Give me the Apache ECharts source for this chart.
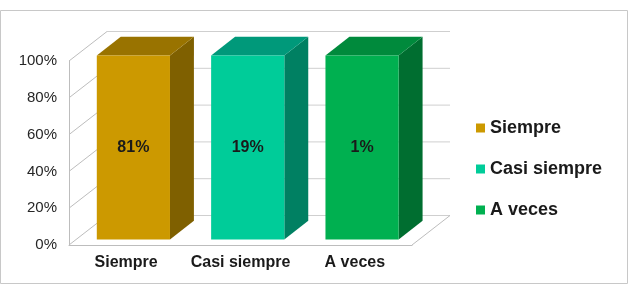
<!DOCTYPE html>
<html>
<head>
<meta charset="utf-8">
<script src="https://cdn.jsdelivr.net/npm/echarts@6/dist/echarts.min.js"></script>
<style>
html,body{margin:0;padding:0;background:#fff;}
#c{width:633px;height:289px;}
</style>
</head>
<body>
<div id="c"></div>
<script>
// ---- data ----
const categories = ['Siempre', 'Casi siempre', 'A veces'];
const barValues = [100, 100, 100];          // bar heights as drawn (100% stacked)
const labelValues = ['81%', '19%', '1%'];   // labels printed on bars
const yTicks = [0, 20, 40, 60, 80, 100];

// ---- styles ----
const frontColors = ['#CC9900', '#00CC99', '#00B050'];
const sideColors  = ['#7F6000', '#008062', '#006E30'];
const topColors   = ['#997300', '#00997A', '#008A3C'];
const FONT = 'Liberation Sans, Arial, sans-serif';

// depth of the 3D box (pixels) and bar placement inside it
const DEPTH = [38, -29.5];
const F0 = 0.19, F1 = 0.82, BAR_W = 0.64;

function wallItem(params, api) {
  const v = api.value(1);
  const band = api.size([1, 0])[0];
  const pL = api.coord([0, v]);
  const pR = api.coord([categories.length - 1, v]);
  const L = pL[0] - band / 2, R = pR[0] + band / 2, y = pL[1];
  const stroke = {stroke: '#bdbdbd', lineWidth: 1};
  const children = [
    {type: 'line', shape: {x1: L, y1: y, x2: L + DEPTH[0], y2: y + DEPTH[1]}, style: stroke},
    {type: 'line', shape: {x1: L + DEPTH[0], y1: y + DEPTH[1], x2: R + DEPTH[0], y2: y + DEPTH[1]}, style: {stroke: '#cfcfcf', lineWidth: 1}}
  ];
  if (v === 0) {
    children.push({type: 'line', shape: {x1: R, y1: y, x2: R + DEPTH[0], y2: y + DEPTH[1]}, style: stroke});
  }
  return {type: 'group', children: children};
}

function makeBarSeries(i) {
  return {
    name: categories[i],
    type: 'custom',
    clip: false,
    z: 3,
    itemStyle: {color: frontColors[i]},
    encode: {x: 0, y: 1},
    data: [[i, barValues[i]]],
    renderItem: function (params, api) {
      const x = api.value(0), v = api.value(1);
      const band = api.size([1, 0])[0];
      const top = api.coord([x, v]);
      const bot = api.coord([x, 0]);
      const bw = band * BAR_W;
      const fx = DEPTH[0] * F0, fy = DEPTH[1] * F0;
      const dx = DEPTH[0] * (F1 - F0), dy = DEPTH[1] * (F1 - F0);
      const x0 = top[0] - bw / 2 + fx;
      const yT = top[1] + fy, yB = bot[1] + fy;
      return {
        type: 'group',
        children: [
          {type: 'polygon', shape: {points: [[x0 + bw, yT], [x0 + bw + dx, yT + dy], [x0 + bw + dx, yB + dy], [x0 + bw, yB]]},
           style: {fill: sideColors[i]}},
          {type: 'polygon', shape: {points: [[x0, yT], [x0 + dx, yT + dy], [x0 + bw + dx, yT + dy], [x0 + bw, yT]]},
           style: {fill: topColors[i]}},
          {type: 'rect', shape: {x: x0, y: yT, width: bw, height: yB - yT},
           style: {fill: frontColors[i]}},
          {type: 'text', x: x0 + bw / 2, y: (yT + yB) / 2,
           style: {text: labelValues[i], fill: '#1a1a1a', font: 'bold 16px ' + FONT, align: 'center', verticalAlign: 'middle'}}
        ]
      };
    }
  };
}

const chart = echarts.init(document.getElementById('c'), null, {renderer: 'canvas'});
chart.setOption({
  animation: false,
  backgroundColor: '#fff',
  graphic: [{
    type: 'rect', shape: {x: 0.5, y: 10.5, width: 627, height: 273},
    style: {fill: 'none', stroke: '#c8c8c8', lineWidth: 1}, z: -10
  }],
  grid: {left: 69, right: 221, top: 61, bottom: 44},
  legend: {
    orient: 'vertical', left: 471, top: 113,
    data: categories, icon: 'rect', itemWidth: 9, itemHeight: 9, itemGap: 21,
    textStyle: {fontFamily: FONT, fontSize: 18, fontWeight: 'bold', color: '#1a1a1a', lineHeight: 20}
  },
  xAxis: {
    type: 'category', data: categories,
    axisLine: {show: true, lineStyle: {color: '#bdbdbd'}},
    axisTick: {show: false},
    axisLabel: {fontFamily: FONT, fontSize: 16, fontWeight: 'bold', color: '#1a1a1a', margin: 10, interval: 0, hideOverlap: false}
  },
  yAxis: {
    type: 'value', min: 0, max: 100, interval: 20,
    axisLine: {show: true, lineStyle: {color: '#bdbdbd'}},
    axisTick: {show: false},
    splitLine: {show: false},
    axisLabel: {fontFamily: FONT, fontSize: 15, color: '#262626', margin: 12, formatter: '{value}%'}
  },
  series: [{
    name: 'walls', type: 'custom', clip: false, z: 1, silent: true,
    encode: {x: 0, y: 1},
    data: yTicks.map(t => [0, t]),
    renderItem: wallItem
  }].concat(categories.map((c, i) => makeBarSeries(i)))
});
</script>
</body>
</html>
